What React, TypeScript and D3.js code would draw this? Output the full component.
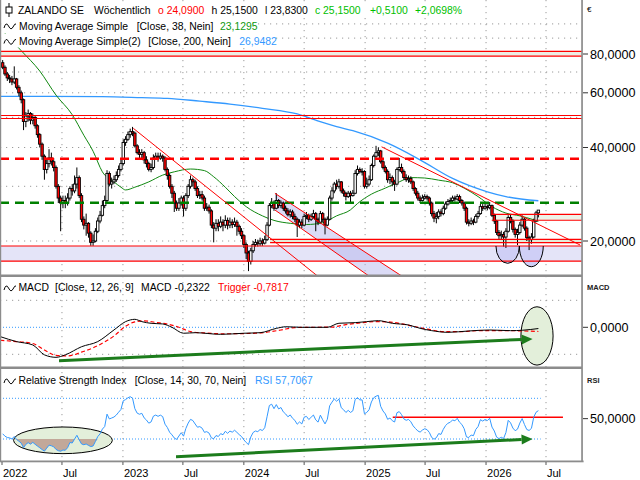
import React from 'react';
import * as d3 from 'd3';

// ---------- DATA (weekly candles, start week of 2022-01-03) ----------
const firstOpen = 75;
const closes = [
  72.5, 69, 67, 66.5, 65, 66.5, 62.5, 60, 57, 48.5,
  50.5, 51.5, 49, 50, 47, 44, 41, 37.5, 34, 35.5,
  37, 36, 34.5, 30, 27.5, 26.5, 27, 26.5, 27.5, 29.5,
  29, 30.5, 32, 28, 23.5, 22.5, 22.8, 21.2, 19.8, 20,
  21.5, 23.2, 24.2, 26, 27, 33, 30.5, 31, 31.5, 32.5,
  34, 35.5, 41.5, 42.5, 44, 45, 44.5, 40.5, 38.5, 38,
  38.5, 36.5, 35.5, 34, 34.5, 37, 37.5, 37, 37.5, 37,
  34, 32.5, 30, 28.5, 26.5, 25.5, 26.5, 27.5, 25.5, 28,
  30, 31.5, 31, 29.5, 28, 28.2, 27.5, 25.5, 25.7, 25,
  22.5, 22, 22.8, 22.3, 23, 22.5, 23.3, 22.5, 23, 22.6,
  23, 22.3, 21.5, 20.8, 19.5, 18.3, 17.2, 18.6, 19.5, 19.8,
  19.6, 20, 19.7, 20.2, 22.5, 26, 26.5, 25.5, 27, 26,
  26.5, 25.5, 25, 24.3, 24.8, 24, 23.5, 22.5, 23, 22.5,
  24, 24.2, 23.5, 24, 24.5, 23.5, 23, 24.5, 23.5, 22.5,
  23.5, 27.5, 29, 30.5, 30, 31, 29, 28.5, 27.8, 28.5,
  28, 28.5, 33, 34, 33.5, 33.5, 30, 30.5, 31.5, 35,
  37.5, 38.5, 39, 36, 34.5, 33.5, 31.5, 32, 31, 30.5,
  34, 34.5, 33.5, 32, 31.5, 31.8, 31, 29.5, 28.5, 27.5,
  27, 27.5, 27.8, 27.5, 26.5, 24.5, 23.7, 24, 24.8, 24.5,
  25.5, 26.3, 26.8, 27, 27.5, 27.3, 27.8, 27, 26.5, 25.5,
  23, 22.8, 23.2, 23, 24, 24.5, 25.8, 25.5, 25.8, 25.6,
  26, 24.2, 23.2, 21.3, 20.8, 21, 20.6, 21.5, 23.8, 23.2,
  21.8, 21, 21.3, 22.5, 23.5, 22, 20.5, 20.2, 20.6, 23.2,
  24.64, 25.15,
];
const highs = [
  76.5, 73.5, 70, 68.5, 68, 73, 67, 63.5, 61, 57.5,
  52, 53, 52, 51.5, 50.5, 47.5, 44.5, 41.5, 38, 37,
  39.5, 38.5, 37, 35, 30.5, 28, 28, 28, 28.5, 30,
  30.5, 32.5, 34.5, 32.5, 28.5, 24, 24.5, 23, 21.5, 21,
  22, 23.8, 25, 27, 28, 33.8, 33.5, 32, 32.5, 33.5,
  35, 36.5, 42.5, 43.5, 45, 46, 46.6, 45, 41, 39.5,
  39.5, 39, 37.5, 36, 35.5, 38, 38.5, 38.5, 38.5, 38,
  37.5, 34.5, 33, 30.5, 29, 27, 27.5, 28, 28, 28.5,
  30.5, 32.5, 32, 31.5, 30, 29, 29, 28, 26.5, 26.2,
  25.3, 23, 23.5, 23.5, 24, 23.5, 24.2, 23.8, 23.8, 23.5,
  23.8, 23.4, 22.6, 22, 21, 19.8, 18.6, 19, 20, 20.3,
  20.2, 20.5, 20.4, 20.8, 23, 26.5, 27.5, 27, 28.5, 27.3,
  27, 26.8, 26, 25.5, 25.3, 25.2, 24.5, 23.8, 23.5, 23.5,
  24.5, 24.8, 24.5, 24.5, 25.2, 24.8, 23.8, 25, 24.8, 23.8,
  24, 28, 29.8, 31, 31.5, 31.7, 31.2, 29.5, 28.8, 29,
  29, 29.2, 33.8, 35, 34.5, 34.3, 33.8, 32, 32.5, 35.5,
  38, 40.5, 40, 39.3, 36.5, 35, 34, 33, 32.5, 31.5,
  34.5, 37, 35.5, 34, 32.8, 32.5, 32.3, 31.3, 29.8, 29,
  28, 28.2, 28.3, 28.2, 27.8, 26.8, 25, 24.8, 25.3, 25.3,
  26, 26.8, 27.3, 27.6, 28, 28, 28.3, 28.2, 27.3, 26.8,
  25.8, 23.5, 23.8, 23.6, 24.4, 25, 26.3, 26.3, 26.3, 26.2,
  26.7, 26.2, 24.5, 23.4, 21.7, 21.6, 21.4, 22, 24.2, 24.3,
  23.5, 22.1, 21.9, 23, 24.2, 23.7, 22.3, 20.8, 21.2, 23.6,
  25, 25.15,
];
const lows = [
  71.5, 68, 65.5, 64.5, 63.5, 64, 61.5, 58.5, 55.5, 45.5,
  46.5, 48.5, 47.5, 47.5, 46, 43, 40, 36.5, 31.5, 33,
  34.5, 35, 33.5, 29.5, 26.5, 21.5, 25.5, 25.5, 26, 27,
  28, 28.5, 29.5, 27.5, 23, 21.8, 20.8, 20.5, 19.3, 19.3,
  19.8, 21.2, 22.8, 24, 25.5, 26.5, 30, 29.5, 30.5, 31,
  32, 33.5, 35, 40.5, 42, 43, 43.5, 40, 38, 37,
  37, 35.5, 34.5, 33.5, 33.3, 34, 36.5, 36, 36.5, 36,
  33.5, 31.5, 29.5, 27.5, 24.8, 25, 25, 26, 24, 25,
  27.5, 29.5, 30, 29, 27.5, 27.3, 27, 25, 25, 24.5,
  22, 19.8, 21.5, 21.5, 22, 21.5, 22, 21.8, 22, 22,
  22.2, 20.8, 21, 20.3, 19, 17.5, 16, 16.8, 18.3, 19.2,
  19.2, 19.3, 19.3, 19.5, 20, 22.3, 25.5, 25, 25.3, 25.5,
  25.5, 25, 24.5, 24, 23.8, 23.5, 23, 20.6, 22, 22,
  22.3, 23.5, 23, 23.2, 23.7, 21.5, 22.5, 22.8, 23, 21,
  22.3, 23.3, 27, 28.5, 29.3, 29.5, 28.5, 27.8, 27, 27.5,
  26.5, 27.8, 28.3, 32.5, 33, 32.5, 29.5, 29.5, 30, 31.2,
  34.5, 37, 37.5, 35.5, 34, 33, 30.8, 30.5, 30, 29,
  30.2, 33.5, 33, 31.5, 31, 30.8, 30.5, 29, 28, 27,
  26.5, 26.8, 27.2, 27, 26, 24, 23, 22.8, 23.5, 24,
  24.2, 25.2, 26, 26.3, 26.6, 26.8, 27, 26.5, 26, 25,
  22.6, 22.3, 22.5, 22.5, 22.8, 23.6, 24.3, 25, 25.2, 25.1,
  25.3, 23.9, 22.7, 20.9, 20.3, 20.2, 19.2, 19.0, 21.3, 22.8,
  21.3, 20.5, 19.4, 21, 22.2, 21.6, 20, 18.7, 19.6, 20.4,
  23, 23.83,
];

// moving averages read at sample weeks
const ma38Idx = [0, 8, 16, 23, 30, 35, 39, 43, 48, 51, 53, 57, 63, 69, 74, 81, 87, 91, 96, 100, 105, 112, 117, 124, 131, 138, 144, 150, 153, 159, 165, 171, 176, 182, 188, 194, 199, 205, 211, 217, 223, 229, 231];
const ma38Val = [95, 82, 70.5, 59, 51, 43.8, 38.9, 33.4, 31, 29.8, 29.2, 29.8, 31, 32.6, 33.4, 34.1, 33.7, 32.2, 29.8, 27.8, 25.8, 24.1, 23.3, 22.8, 22.6, 22.9, 24.1, 25.2, 26.4, 28.3, 29.6, 31, 32, 31.9, 31.4, 30.8, 29.6, 27.8, 25.8, 24.6, 24.1, 23.4, 23.13];
const ma200Idx = [-1, 20, 43, 60, 71, 85, 98, 112, 127, 135, 144, 151, 166, 180, 194, 209, 217, 231];
const ma200Val = [58.4, 58.4, 58.3, 57.9, 57.6, 56.4, 55.2, 53.5, 51.3, 49.0, 46.7, 45.3, 41.3, 36.5, 31.8, 28.8, 27.8, 26.95];

// MACD / trigger read at sample weeks
const macdIdx = [-1, 6, 13, 18, 23, 27, 34, 41, 48, 53, 57, 60, 64, 69, 73, 78, 83, 94, 104, 111, 118, 122, 129, 140, 145, 152, 157, 162, 168, 175, 180, 185, 192, 201, 210, 219, 224, 231];
const macdVal = [-1.73, -2.65, -3.27, -5.1, -5.56, -5.1, -3.6, -2.65, -0.49, 1.05, 1.48, 1.05, 0.74, 0.62, 0, -1.1, -1.0, -1.3, -1.1, -1.0, -0.2, 0.1, 0, 0, 0.75, 0.86, 1.05, 1.23, 0.74, 0.43, -0.19, -0.62, -0.93, -0.68, -0.5, -0.62, -0.55, -0.23];
const trigIdx = [-1, 6, 13, 18, 23, 28, 34, 41, 48, 53, 57, 61, 66, 71, 76, 81, 87, 95, 105, 113, 120, 126, 133, 142, 148, 155, 161, 166, 172, 178, 184, 190, 198, 206, 214, 222, 231];
const trigVal = [-2.4, -2.65, -3.0, -4.2, -5.2, -5.3, -4.6, -3.4, -1.6, 0.2, 1.0, 1.2, 0.9, 0.6, 0.0, -0.8, -1.05, -1.2, -1.15, -0.95, -0.5, -0.05, 0.0, 0.05, 0.5, 0.85, 1.05, 1.0, 0.65, 0.1, -0.4, -0.8, -0.8, -0.6, -0.6, -0.65, -0.78];

const rsiPeriod = 14;
const rsiSeedGain = 1.3;
const rsiSeedLoss = 2.4;

// axes
const priceTicks = [80, 60, 40, 20];
const priceGrid = [20, 30, 40, 50, 60, 70, 80, 90, 100];
const timeTicks: [string, string][] = [
  ['2022-01-01', '2022'], ['2022-07-01', 'Jul'], ['2023-01-01', '2023'], ['2023-07-01', 'Jul'],
  ['2024-01-01', '2024'], ['2024-07-01', 'Jul'], ['2025-01-01', '2025'], ['2025-07-01', 'Jul'],
  ['2026-01-01', '2026'], ['2026-07-01', 'Jul'],
];

// drawn objects (week index, price)
const bandTop = [78.8, 81.6];
const band50 = [49.6, 50.7];
const dashRed = 36.8;
const dashGreen = 26.57;
const bandLow = [17.24, 19.27];
const band20 = { start: 115.3, lo: 19.75, hi: 20.25 };
const band24 = { start: 210.9, lo: 23.33, hi: 24.38 };
const trendA = [[56.35, 46.1], [134, 15.81]];
const chanUpper = [[117.4, 28.48], [169.9, 15.81]];
const chanLower = [[117.4, 25.17], [154.1, 16.16]];
const trendB = [[163.4, 40.2], [248.96, 19.42]];
const arcs = [[212.7, 222.8, 19.27, 16.95], [222.8, 233.1, 19.27, 16.53]];
const macdArrow = [[24.3, -6.2], [228.5, -2.15]];
const macdEllipse = { i: 230.4, v: -1.6, ri: 6.94, rv: 5.4 };
const rsiArrow = [[74.75, 12.6], [228.5, 30]];
const rsiEllipse = { i: 26, v: 28.7, ri: 21.3, rv: 13.1 };
const rsiResist = { from: 168.2, to: 241.6, v: 51.4 };

const FONT = "'Liberation Sans', Arial, Helvetica, sans-serif";
const PR = 582;
const LFS = 10.4;

function App() {
  const xT = d3.scaleTime()
    .domain([new Date(Date.UTC(2022, 0, 1)), new Date(Date.UTC(2026, 6, 1))])
    .range([2, 546]);
  const week0 = Date.UTC(2022, 0, 3);
  const xi = (i: number) => xT(new Date(week0 + i * 7 * 86400000));
  const yP = d3.scaleLog().domain([20, 80]).range([241, 54]);
  const yM = d3.scaleLinear().domain([0, 5]).range([327.3, 300.3]);
  const yR = d3.scaleLinear().domain([30, 70]).range([439, 398.3]);

  // RSI (Wilder)
  const rsi: number[] = [];
  let ag = rsiSeedGain, al = rsiSeedLoss;
  rsi.push(100 - 100 / (1 + ag / al));
  for (let i = 1; i < closes.length; i++) {
    const d = closes[i] - closes[i - 1];
    ag = (ag * (rsiPeriod - 1) + Math.max(d, 0)) / rsiPeriod;
    al = (al * (rsiPeriod - 1) + Math.max(-d, 0)) / rsiPeriod;
    rsi.push(100 - 100 / (1 + ag / al));
  }
  const idxs = closes.map((_, i) => i);

  const lineP = (idx: number[], val: number[]) =>
    d3.line<number>().x((_, k) => xi(idx[k])).y((_, k) => yP(val[k])).curve(d3.curveMonotoneX)(idx) || '';
  const lineM = (idx: number[], val: number[]) =>
    d3.line<number>().x((_, k) => xi(idx[k])).y((_, k) => yM(val[k])).curve(d3.curveMonotoneX)(idx) || '';
  const rsiPath = d3.line<number>().x(i => xi(i)).y(i => yR(rsi[i]))(idxs) || '';
  const rsiLowArea = d3.area<number>().x(i => xi(i)).y0(yR(30)).y1(i => yR(Math.min(rsi[i], 30)))(idxs.slice(0, 70)) || '';

  const ext = (a: number[][], toI: number) => {
    const x0 = xi(a[0][0]), y0 = yP(a[0][1]), x1 = xi(a[1][0]), y1 = yP(a[1][1]);
    const x2 = xi(toI);
    const y2 = y0 + (y1 - y0) * (x2 - x0) / (x1 - x0);
    return [x0, y0, x2, y2];
  };
  const tA = ext(trendA, 260);
  const cU = ext(chanUpper, 260);
  const cL = ext(chanLower, 260);
  const tB = ext(trendB, trendB[1][0]);

  const arrow = (a: number[][], ys: (v: number) => number) => {
    const x0 = xi(a[0][0]), y0 = ys(a[0][1]), x1 = xi(a[1][0]), y1 = ys(a[1][1]);
    const dx = x1 - x0, dy = y1 - y0, L = Math.hypot(dx, dy);
    const ux = dx / L, uy = dy / L;
    const bx = x1 - ux * 11, by = y1 - uy * 11;
    const nx = -uy, ny = ux;
    return (
      <g>
        <line x1={x0} y1={y0} x2={bx} y2={by} stroke="#1c7c1c" strokeWidth={3} />
        <path d={`M${x1},${y1}L${bx + nx * 5},${by + ny * 5}L${bx - nx * 5},${by - ny * 5}Z`} fill="#1c7c1c" />
      </g>
    );
  };

  const dotted = '1.2 4.8';
  const gray = '#8c8c8c';
  const fmt = (v: number) => v.toFixed(4).replace('.', ',');

  const mE = { cx: xi(macdEllipse.i), cy: yM(macdEllipse.v), rx: xi(macdEllipse.i + macdEllipse.ri) - xi(macdEllipse.i), ry: yM(macdEllipse.v - macdEllipse.rv) - yM(macdEllipse.v) };
  const rE = { cx: xi(rsiEllipse.i), cy: yR(rsiEllipse.v), rx: xi(rsiEllipse.i + rsiEllipse.ri) - xi(rsiEllipse.i), ry: yR(rsiEllipse.v - rsiEllipse.rv) - yR(rsiEllipse.v) };

  const wave = (y: number) => `M4,${y + 1} q2,-7 4.5,-2 t4.5,1 t3,-3`;

  return (
    <svg width={640} height={480} style={{ position: 'absolute', left: 0, top: 0, background: '#fff' }} fontFamily={FONT}>
      <defs>
        <clipPath id="cMain"><rect x={0} y={0} width={PR} height={275} /></clipPath>
        <clipPath id="cMacd"><rect x={0} y={277} width={PR} height={90} /></clipPath>
        <clipPath id="cRsi"><rect x={0} y={369} width={PR} height={92} /></clipPath>
        <clipPath id="cRsiEl"><ellipse cx={rE.cx} cy={rE.cy} rx={rE.rx} ry={rE.ry} /></clipPath>
      </defs>
      <rect x={0} y={0} width={640} height={480} fill="#fff" />

      {/* vertical grid */}
      {timeTicks.slice(1).map(([d]) => {
        const x = xT(new Date(d + 'T00:00:00Z'));
        return <line key={d} x1={x} x2={x} y1={0} y2={461} stroke="#9a9a9a" strokeDasharray={dotted} />;
      })}

      <g clipPath="url(#cMain)">
        {priceGrid.map(v => <line key={v} x1={0} x2={PR} y1={yP(v)} y2={yP(v)} stroke="#9a9a9a" strokeDasharray={dotted} />)}
        {/* bands */}
        <rect x={0} y={yP(bandTop[1])} width={PR} height={yP(bandTop[0]) - yP(bandTop[1])} fill="#ecede4" />
        <rect x={0} y={yP(bandLow[1])} width={PR} height={yP(bandLow[0]) - yP(bandLow[1])} fill="#e4e4f8" />
        <rect x={xi(band20.start)} y={yP(band20.hi)} width={PR - xi(band20.start)} height={yP(band20.lo) - yP(band20.hi)} fill="#e2ecd9" />
        <rect x={xi(band24.start)} y={yP(band24.hi)} width={PR - xi(band24.start)} height={yP(band24.lo) - yP(band24.hi)} fill="#eef3e8" />
        <path d={`M${cU[0]},${cU[1]}L${cU[2]},${cU[3]}L${cL[2]},${cL[3]}L${cL[0]},${cL[1]}Z`} fill="rgb(175,175,235)" fillOpacity={0.45} />
        {arcs.map((a, k) => {
          const x0 = xi(a[0]), x1 = xi(a[1]), cy = yP(a[2]), rx = (x1 - x0) / 2, ry = yP(a[3]) - cy;
          return <path key={k} d={`M${x0},${cy}A${rx},${ry} 0 0 0 ${x1},${cy}Z`} fill="#cfcff6" />;
        })}

        {/* moving averages */}
        <path d={lineP(ma200Idx, ma200Val)} fill="none" stroke="#3399ff" strokeWidth={1.3} />
        <path d={lineP(ma38Idx, ma38Val)} fill="none" stroke="#118811" strokeWidth={1} />

        {/* candles */}
        {closes.map((c, i) => {
          const o = i === 0 ? firstOpen : closes[i - 1];
          const x = xi(i);
          const yo = yP(o), yc = yP(c);
          const top = Math.min(yo, yc);
          const h = Math.max(Math.abs(yo - yc), 0.8);
          return (
            <g key={i}>
              <line x1={x} x2={x} y1={yP(highs[i])} y2={yP(lows[i])} stroke="#000" strokeWidth={1} />
              <rect x={x - 1.2} y={top} width={2.4} height={h} fill={c < o ? '#ff0000' : '#ffffff'} stroke="#000" strokeWidth={0.9} />
            </g>
          );
        })}

        {/* drawn lines */}
        {[bandTop[0], bandTop[1], band50[0], band50[1], bandLow[0], bandLow[1]].map((v, k) =>
          <line key={k} x1={0} x2={PR} y1={yP(v)} y2={yP(v)} stroke="#ff0000" strokeWidth={1.2} />)}
        {[band20.lo, band20.hi].map((v, k) =>
          <line key={'b20' + k} x1={xi(band20.start)} x2={PR} y1={yP(v)} y2={yP(v)} stroke="#ff0000" strokeWidth={1.2} />)}
        {[band24.lo, band24.hi].map((v, k) =>
          <line key={'b24' + k} x1={xi(band24.start)} x2={PR} y1={yP(v)} y2={yP(v)} stroke="#ff0000" strokeWidth={1.2} />)}
        <line x1={0} x2={PR} y1={yP(dashRed)} y2={yP(dashRed)} stroke="#ff0000" strokeWidth={2.6} strokeDasharray="9 6" />
        <line x1={0} x2={PR} y1={yP(dashGreen)} y2={yP(dashGreen)} stroke="#008000" strokeWidth={2.6} strokeDasharray="9 6" />
        <line x1={tA[0]} y1={tA[1]} x2={tA[2]} y2={tA[3]} stroke="#ff0000" strokeWidth={1} />
        <line x1={cU[0]} y1={cU[1]} x2={cU[2]} y2={cU[3]} stroke="#ff0000" strokeWidth={1} />
        <line x1={cL[0]} y1={cL[1]} x2={cL[2]} y2={cL[3]} stroke="#ff0000" strokeWidth={1} />
        <line x1={tB[0]} y1={tB[1]} x2={tB[2]} y2={tB[3]} stroke="#ff0000" strokeWidth={1} />
        {arcs.map((a, k) => {
          const x0 = xi(a[0]), x1 = xi(a[1]), cy = yP(a[2]), rx = (x1 - x0) / 2, ry = yP(a[3]) - cy;
          return <path key={k} d={`M${x0},${cy}A${rx},${ry} 0 0 0 ${x1},${cy}`} fill="none" stroke="#000" strokeWidth={1} />;
        })}
      </g>

      {/* header legend */}
      <rect x={2} y={2} width={462} height={15} fill="#fff" />
      <rect x={2} y={18} width={250} height={15} fill="#fff" />
      <rect x={2} y={33.5} width={270} height={14} fill="#fff" />
      <line x1={9} x2={9} y1={3} y2={17} stroke="#000" />
      <rect x={6} y={7} width={6} height={6} fill="#fff" stroke="#000" />
      <g fontSize={LFS}>
        <text x={18} y={14} fill="#000">ZALANDO SE</text>
        <text x={94} y={14} fill="#000">Wöchentlich</text>
        <text x={158} y={14} fill="#ff0000">o 24,0900</text>
        <text x={211.5} y={14} fill="#000">h 25,1500</text>
        <text x={265} y={14} fill="#000">l 23,8300</text>
        <text x={315} y={14} fill="#00c000">c 25,1500</text>
        <text x={370} y={14} fill="#00c000">+0,5100</text>
        <text x={415} y={14} fill="#00c000">+2,0698%</text>
        <path d={wave(27)} fill="none" stroke="#000" />
        <text x={19} y={29.5} fill="#000">Moving Average Simple</text>
        <text x={136.7} y={29.5} fill="#000">[Close, 38, Nein]</text>
        <text x={220} y={29.5} fill="#119911">23,1295</text>
        <path d={wave(42.5)} fill="none" stroke="#000" />
        <text x={19} y={45} fill="#000">Moving Average Simple(2)</text>
        <text x={148.3} y={45} fill="#000">[Close, 200, Nein]</text>
        <text x={239.3} y={45} fill="#3399ff">26,9482</text>
      </g>

      {/* MACD panel */}
      <g clipPath="url(#cMacd)">
        {[5, -5].map(v => <line key={v} x1={0} x2={PR} y1={yM(v)} y2={yM(v)} stroke="#9a9a9a" strokeDasharray={dotted} />)}
        <line x1={0} x2={xi(232)} y1={yM(0)} y2={yM(0)} stroke="#3399ff" strokeDasharray="1 2" />
        <ellipse cx={mE.cx} cy={mE.cy} rx={mE.rx} ry={mE.ry} fill="#e3efda" stroke="#000" strokeWidth={1} />
        <path d={lineM(trigIdx, trigVal)} fill="none" stroke="#ff0000" strokeWidth={1.2} strokeDasharray="4 2.5" />
        <path d={lineM(macdIdx, macdVal)} fill="none" stroke="#000" strokeWidth={1} />
        {arrow(macdArrow, yM)}
      </g>
      <path d={wave(289)} fill="none" stroke="#000" />
      <g fontSize={LFS}>
        <text x={18.4} y={291} fill="#000">MACD</text>
        <text x={55} y={291} fill="#000">[Close, 12, 26, 9]</text>
        <text x={141} y={291} fill="#000">MACD -0,2322</text>
        <text x={218} y={291} fill="#ff0000">Trigger -0,7817</text>
      </g>

      {/* RSI panel */}
      <g clipPath="url(#cRsi)">
        <line x1={0} x2={xi(232)} y1={yR(70)} y2={yR(70)} stroke="#3399ff" strokeDasharray="1 2" />
        <line x1={0} x2={xi(232)} y1={yR(30)} y2={yR(30)} stroke="#3399ff" strokeDasharray="1 2" />
        <ellipse cx={rE.cx} cy={rE.cy} rx={rE.rx} ry={rE.ry} fill="#e3efda" stroke="#000" strokeWidth={1} />
        <path d={rsiLowArea} fill="#c2a899" clipPath="url(#cRsiEl)" />
        <line x1={xi(rsiResist.from)} x2={xi(rsiResist.to)} y1={yR(rsiResist.v)} y2={yR(rsiResist.v)} stroke="#ff0000" strokeWidth={1.3} />
        <path d={rsiPath} fill="none" stroke="#3399ff" strokeWidth={1} />
        {arrow(rsiArrow, yR)}
      </g>
      <path d={wave(382)} fill="none" stroke="#000" />
      <g fontSize={LFS}>
        <text x={18.4} y={384} fill="#000">Relative Strength Index</text>
        <text x={134.7} y={384} fill="#000">[Close, 14, 30, 70, Nein]</text>
        <text x={255} y={384} fill="#3399ff">RSI 57,7067</text>
      </g>

      {/* frames */}
      <rect x={0} y={0} width={1.2} height={462} fill={gray} />
      <rect x={0} y={274.5} width={PR} height={2.5} fill={gray} />
      <rect x={0} y={366.5} width={PR} height={2.5} fill={gray} />
      <rect x={0} y={460.5} width={PR + 1.6} height={1.8} fill={gray} />
      <rect x={PR - 0.8} y={0} width={1.7} height={462} fill={gray} />

      {/* right axis */}
      <text x={587} y={12} fontSize={8} fill="#000">€</text>
      {priceTicks.map(v => (
        <g key={v}>
          <line x1={PR + 1} x2={588} y1={yP(v)} y2={yP(v)} stroke="#333" />
          <text x={590} y={yP(v)} dy="0.36em" fontSize={12.6} fill="#000">{fmt(v)}</text>
        </g>
      ))}
      <text x={587} y={290} fontSize={7.5} fontWeight="bold" fill="#222">MACD</text>
      <line x1={PR + 1} x2={588} y1={yM(0)} y2={yM(0)} stroke="#333" />
      <text x={590} y={yM(0)} dy="0.36em" fontSize={12.6} fill="#000">{fmt(0)}</text>
      <text x={587} y={383} fontSize={7.5} fontWeight="bold" fill="#222">RSI</text>
      <line x1={PR + 1} x2={588} y1={yR(50)} y2={yR(50)} stroke="#333" />
      <text x={590} y={yR(50)} dy="0.36em" fontSize={12.6} fill="#000">{fmt(50)}</text>

      {/* bottom axis */}
      {timeTicks.map(([d, label]) => {
        const x = xT(new Date(d + 'T00:00:00Z'));
        return (
          <g key={d}>
            <line x1={x} x2={x} y1={462} y2={465} stroke="#555" />
            <text x={x + 1} y={477} fontSize={11} fill="#000">{label}</text>
          </g>
        );
      })}
    </svg>
  );
}

export default App;
